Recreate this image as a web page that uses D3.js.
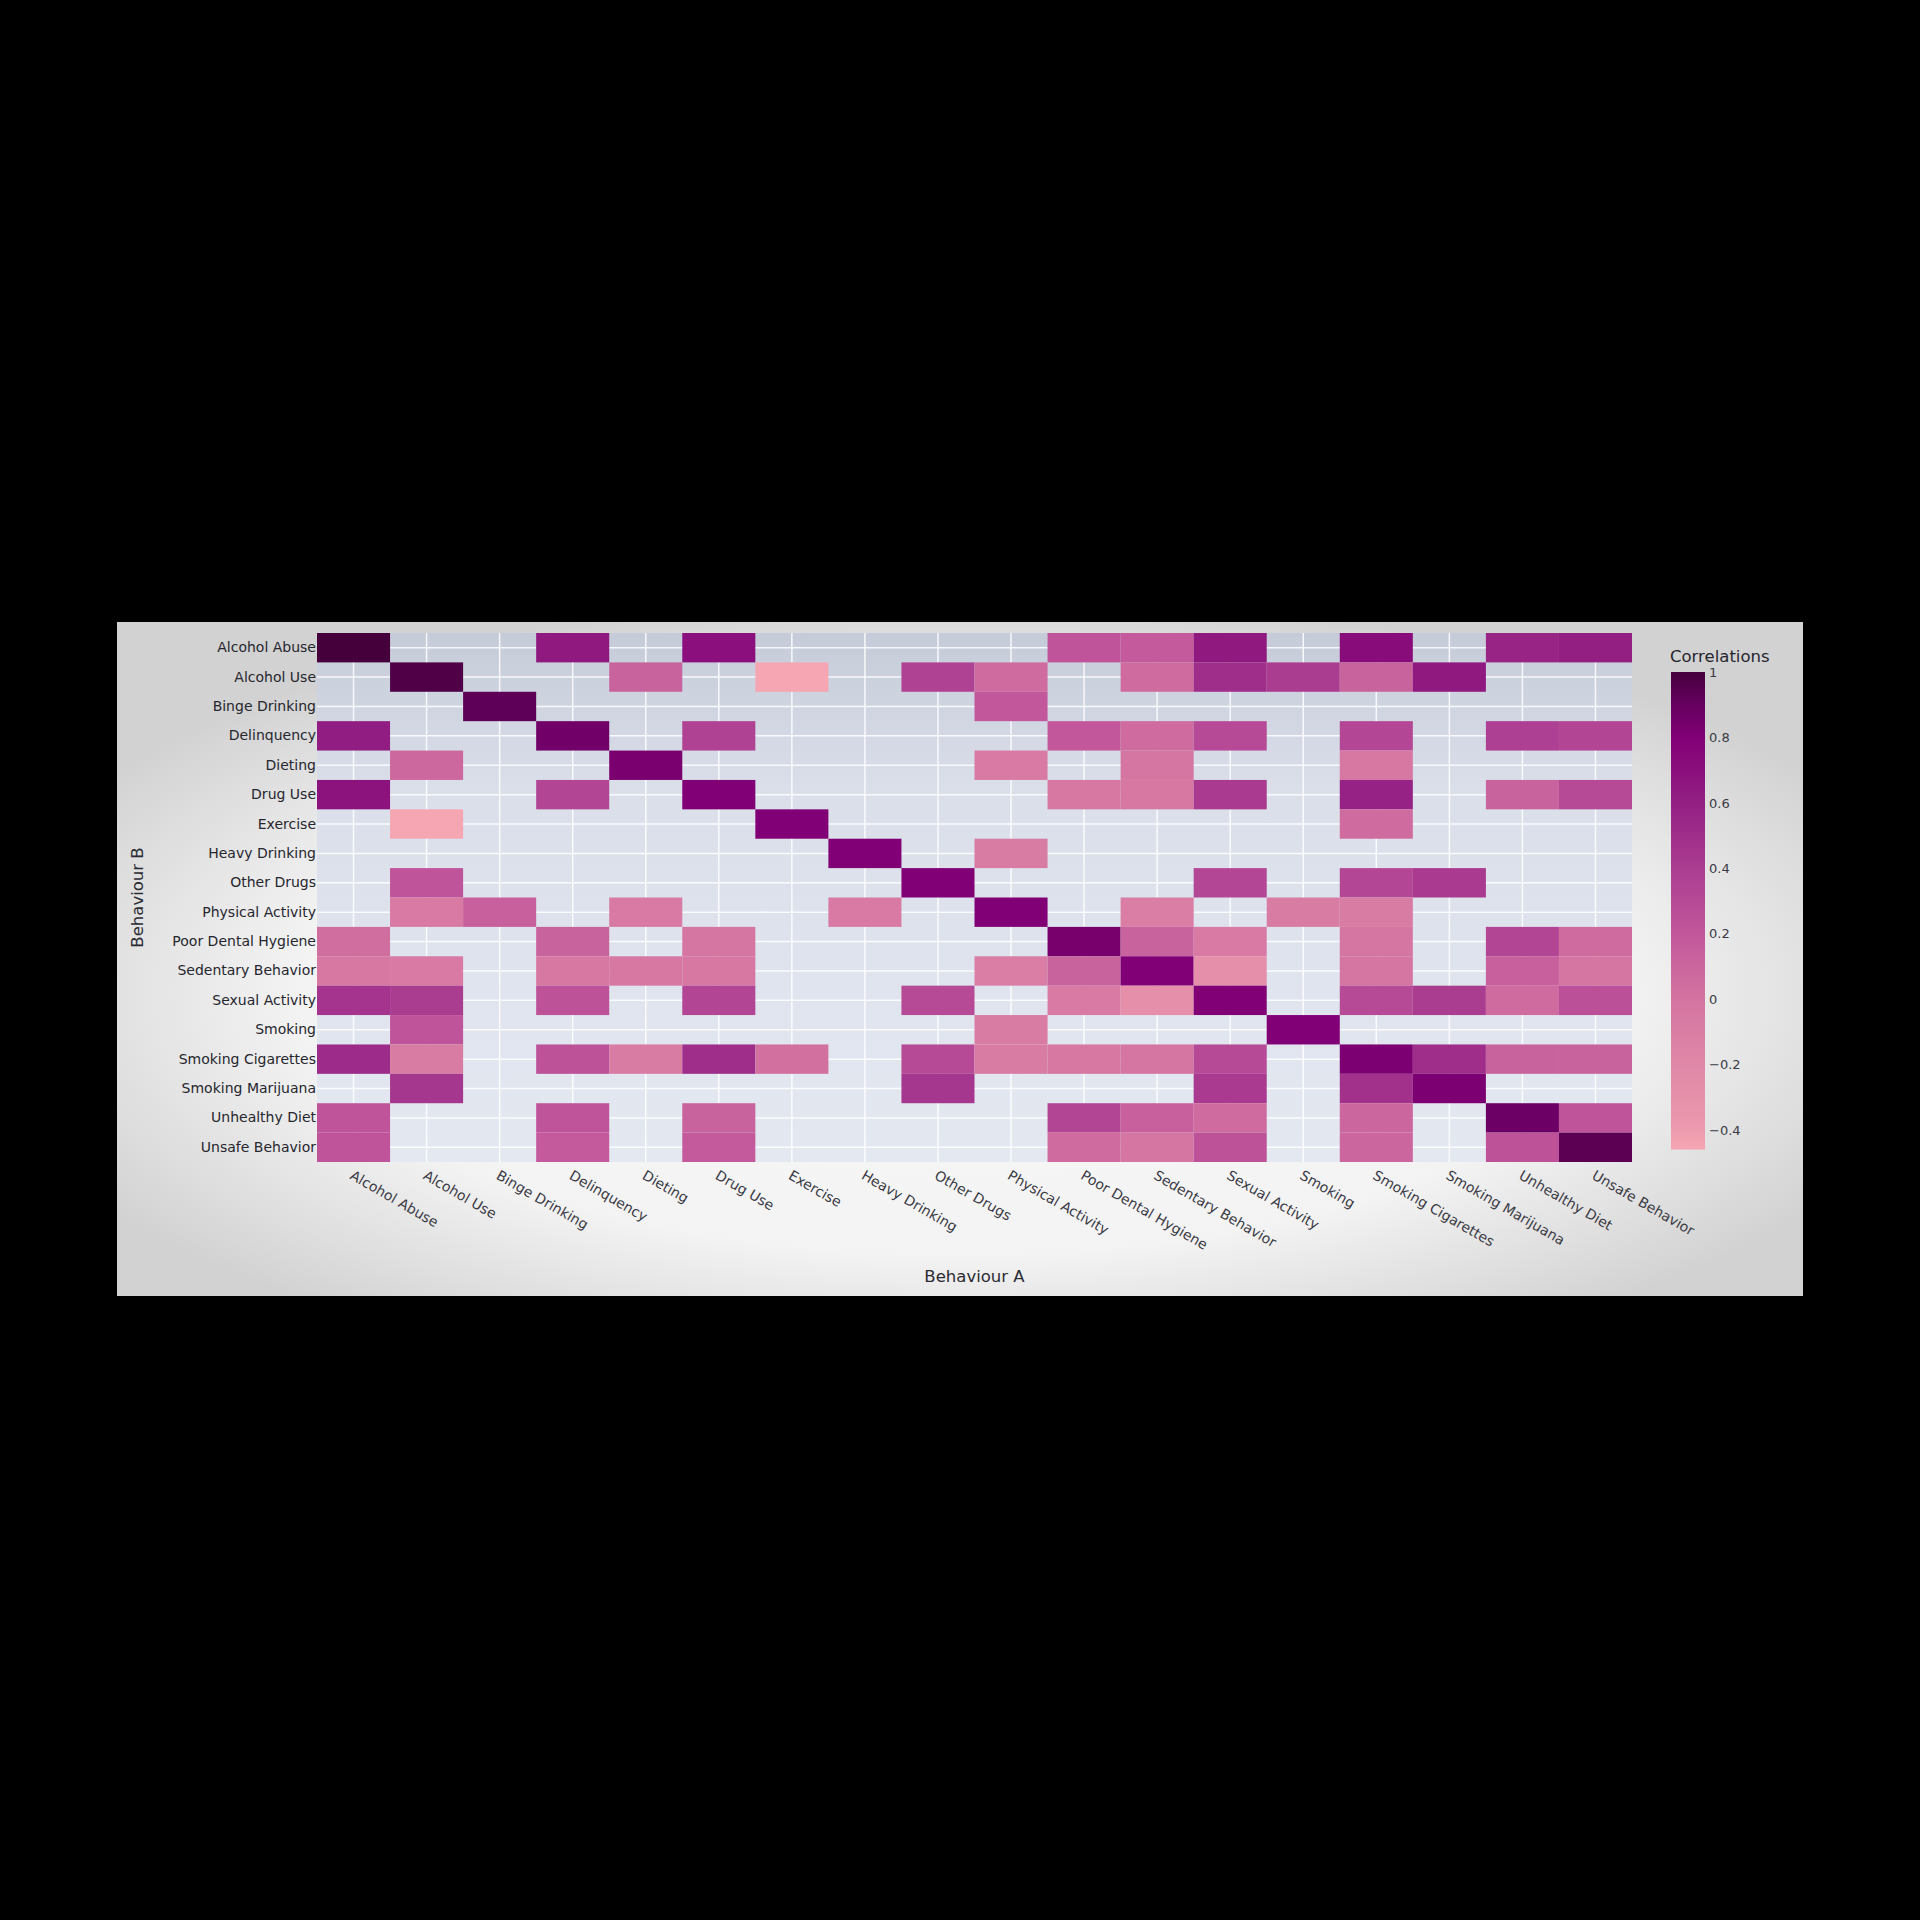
<!DOCTYPE html>
<html>
<head>
<meta charset="utf-8">
<script src="https://cdn.jsdelivr.net/npm/d3@7"></script>
<style>
  html, body { margin: 0; padding: 0; background: #000; }
  svg { display: block; }
  text { font-family: "DejaVu Sans", Verdana, sans-serif; }
</style>
</head>
<body>
<svg id="chart" width="1920" height="1920"></svg>
<script>
// ---------- data ----------
const behaviours = [
  "Alcohol Abuse", "Alcohol Use", "Binge Drinking", "Delinquency", "Dieting",
  "Drug Use", "Exercise", "Heavy Drinking", "Other Drugs", "Physical Activity",
  "Poor Dental Hygiene", "Sedentary Behavior", "Sexual Activity", "Smoking",
  "Smoking Cigarettes", "Smoking Marijuana", "Unhealthy Diet", "Unsafe Behavior"
];
const n = null;
// rows = Behaviour B (top to bottom), columns = Behaviour A (left to right)
const correlations = [
  [1.0, n, n, 0.64, n, 0.70, n, n, n, n, 0.22, 0.18, 0.64, n, 0.72, n, 0.56, 0.60],
  [n, 0.97, n, n, 0.12, n, -0.46, n, 0.36, 0.06, n, 0.06, 0.50, 0.40, 0.12, 0.64, n, n],
  [n, n, 0.92, n, n, n, n, n, n, 0.20, n, n, n, n, n, n, n, n],
  [0.62, n, n, 0.86, n, 0.36, n, n, n, n, 0.20, 0.06, 0.30, n, 0.32, n, 0.38, 0.34],
  [n, 0.08, n, n, 0.83, n, n, n, n, -0.06, n, -0.02, n, n, -0.04, n, n, n],
  [0.68, n, n, 0.34, n, 0.80, n, n, n, n, -0.04, -0.04, 0.42, n, 0.58, n, 0.12, 0.30],
  [n, -0.46, n, n, n, n, 0.80, n, n, n, n, n, n, n, 0.06, n, n, n],
  [n, n, n, n, n, n, n, 0.80, n, -0.08, n, n, n, n, n, n, n, n],
  [n, 0.22, n, n, n, n, n, n, 0.80, n, n, n, 0.32, n, 0.32, 0.42, n, n],
  [n, -0.06, 0.14, n, -0.06, n, n, -0.06, n, 0.80, n, -0.10, n, -0.08, -0.08, n, n, n],
  [0.04, n, n, 0.12, n, -0.02, n, n, n, n, 0.84, 0.12, -0.06, n, -0.02, n, 0.34, 0.06],
  [-0.04, -0.06, n, -0.04, -0.04, -0.04, n, n, n, -0.10, 0.12, 0.80, -0.28, n, -0.02, n, 0.14, -0.02],
  [0.46, 0.40, n, 0.24, n, 0.34, n, n, 0.30, n, -0.06, -0.28, 0.80, n, 0.30, 0.40, 0.06, 0.26],
  [n, 0.22, n, n, n, n, n, n, n, -0.08, n, n, n, 0.80, n, n, n, n],
  [0.52, -0.08, n, 0.24, -0.08, 0.50, 0.02, n, 0.30, -0.08, -0.04, -0.02, 0.30, n, 0.82, 0.50, 0.12, 0.12],
  [n, 0.44, n, n, n, n, n, n, 0.44, n, n, n, 0.42, n, 0.48, 0.82, n, n],
  [0.22, n, n, 0.22, n, 0.12, n, n, n, n, 0.34, 0.14, 0.06, n, 0.10, n, 0.88, 0.22],
  [0.22, n, n, 0.18, n, 0.18, n, n, n, n, 0.06, -0.02, 0.24, n, 0.10, n, 0.24, 0.93]
];
const colorbarTicks = [1, 0.8, 0.6, 0.4, 0.2, 0, -0.2, -0.4];
const colorStops = [-0.46, -0.4, -0.2, 0, 0.2, 0.4, 0.6, 0.8, 0.9, 1.0];
const colorRange = ["#f6a6b3", "#ec9aae", "#e088a8", "#d474a1", "#c2579b",
                    "#ab3d91", "#931f83", "#820076", "#66005f", "#45003c"];

// ---------- layout ----------
const svg = d3.select("#chart");
const panel = { x: 117, y: 622, w: 1686, h: 674 };
const plot = { left: 317, right: 1632, top: 633, bottom: 1162 };
const cb = { x: 1671, w: 34, top: 672, bottom: 1150 };

const defs = svg.append("defs");
const rg = defs.append("radialGradient").attr("id", "panelBg")
  .attr("cx", "50%").attr("cy", "55%").attr("r", "60%");
rg.append("stop").attr("offset", "0%").attr("stop-color", "#f9f9f9");
rg.append("stop").attr("offset", "65%").attr("stop-color", "#f3f3f3");
rg.append("stop").attr("offset", "100%").attr("stop-color", "#d2d2d2");

const pg = defs.append("linearGradient").attr("id", "plotBg")
  .attr("x1", 0).attr("y1", 0).attr("x2", 0).attr("y2", 1);
pg.append("stop").attr("offset", "0%").attr("stop-color", "#c6cbd9");
pg.append("stop").attr("offset", "30%").attr("stop-color", "#dadfea");
pg.append("stop").attr("offset", "100%").attr("stop-color", "#e4e8f1");

svg.append("rect").attr("width", 1920).attr("height", 1920).attr("fill", "#000");
svg.append("rect").attr("x", panel.x).attr("y", panel.y)
  .attr("width", panel.w).attr("height", panel.h).attr("fill", "url(#panelBg)");

// scales
const x = d3.scaleBand().domain(behaviours).range([plot.left, plot.right]).padding(0);
const y = d3.scaleBand().domain(behaviours).range([plot.top, plot.bottom]).padding(0);
const color = d3.scaleLinear().domain(colorStops).range(colorRange)
  .interpolate(d3.interpolateRgb).clamp(true);

// plot background
svg.append("rect").attr("x", plot.left).attr("y", plot.top)
  .attr("width", plot.right - plot.left).attr("height", plot.bottom - plot.top)
  .attr("fill", "url(#plotBg)");

// gridlines at category centres
const grid = svg.append("g").attr("stroke", "#ffffff").attr("stroke-width", 1.5).attr("stroke-opacity", 0.85);
behaviours.forEach(b => {
  const cx = x(b) + x.bandwidth() / 2;
  grid.append("line").attr("x1", cx).attr("x2", cx).attr("y1", plot.top).attr("y2", plot.bottom);
  const cy = y(b) + y.bandwidth() / 2;
  grid.append("line").attr("x1", plot.left).attr("x2", plot.right).attr("y1", cy).attr("y2", cy);
});

// cells
const cells = [];
correlations.forEach((row, i) => row.forEach((v, j) => {
  if (v !== null) cells.push({ a: behaviours[j], b: behaviours[i], v });
}));
svg.append("g").selectAll("rect").data(cells).join("rect")
  .attr("x", d => x(d.a)).attr("y", d => y(d.b))
  .attr("width", x.bandwidth()).attr("height", y.bandwidth())
  .attr("fill", d => color(d.v));

// y axis labels
const yAxis = d3.axisLeft(y).tickSize(0).tickPadding(1);
const gy = svg.append("g").attr("transform", `translate(${plot.left},0)`).call(yAxis);
gy.select(".domain").remove();
gy.selectAll("text").attr("font-size", 14).attr("fill", "#26262e")
  .attr("font-family", '"DejaVu Sans", Verdana, sans-serif');

// x axis labels (rotated 30deg)
const xAxis = d3.axisBottom(x).tickSize(0).tickPadding(0);
const gx = svg.append("g").attr("transform", `translate(0,${plot.bottom})`).call(xAxis);
gx.select(".domain").remove();
gx.selectAll("text")
  .attr("font-size", 14).attr("fill", "#3a3a44")
  .attr("font-family", '"DejaVu Sans", Verdana, sans-serif')
  .attr("text-anchor", "start")
  .attr("x", 0).attr("y", 0).attr("dy", "0.35em")
  .attr("transform", "translate(-2,12) rotate(30)");

// axis titles
svg.append("text").attr("x", (plot.left + plot.right) / 2).attr("y", 1282)
  .attr("text-anchor", "middle").attr("font-size", 16.5).attr("fill", "#2b2b33")
  .text("Behaviour A");
svg.append("text").attr("transform", `translate(143,${(plot.top + plot.bottom) / 2}) rotate(-90)`)
  .attr("text-anchor", "middle").attr("font-size", 16.5).attr("fill", "#2b2b33")
  .text("Behaviour B");

// colorbar
const cbScale = d3.scaleLinear().domain([1, -0.4]).range([cb.top, 1130]);
const cbMin = -0.46;
const lg = defs.append("linearGradient").attr("id", "cbGrad")
  .attr("x1", 0).attr("y1", 1).attr("x2", 0).attr("y2", 0);
colorStops.forEach(s => {
  lg.append("stop").attr("offset", ((s - cbMin) / (1 - cbMin) * 100) + "%").attr("stop-color", color(s));
});
svg.append("rect").attr("x", cb.x).attr("y", cbScale(1))
  .attr("width", cb.w).attr("height", cbScale(cbMin) - cbScale(1))
  .attr("fill", "url(#cbGrad)");
const cbAxis = d3.axisRight(cbScale).tickValues(colorbarTicks).tickSize(0).tickPadding(4)
  .tickFormat(d => d < 0 ? "\u2212" + Math.abs(d) : String(d));
const gcb = svg.append("g").attr("transform", `translate(${cb.x + cb.w},0)`).call(cbAxis);
gcb.select(".domain").remove();
gcb.selectAll("text").attr("font-size", 13).attr("fill", "#3a3a44")
  .attr("font-family", '"DejaVu Sans", Verdana, sans-serif');
svg.append("text").attr("x", cb.x - 1).attr("y", 662)
  .attr("font-size", 16.5).attr("fill", "#26262e").text("Correlations");
</script>
</body>
</html>
